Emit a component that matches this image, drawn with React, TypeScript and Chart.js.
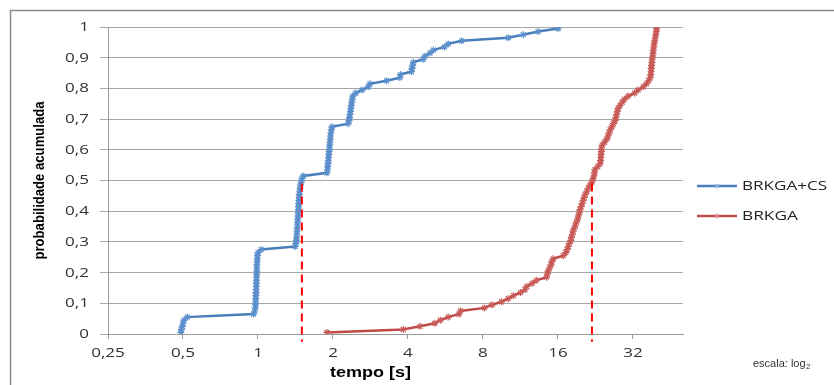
import React, { useEffect, useRef } from "react";
import { Chart, registerables } from "chart.js";

Chart.register(...registerables);

// cumulative probability levels shared by both series
const probLevels = [
  0.005, 0.015, 0.025, 0.035, 0.045, 0.055, 0.065, 0.075, 0.085, 0.095,
  0.105, 0.115, 0.125, 0.135, 0.145, 0.155, 0.165, 0.175, 0.185, 0.195,
  0.205, 0.215, 0.225, 0.235, 0.245, 0.255, 0.265, 0.275, 0.285, 0.295,
  0.305, 0.315, 0.325, 0.335, 0.345, 0.355, 0.365, 0.375, 0.385, 0.395,
  0.405, 0.415, 0.425, 0.435, 0.445, 0.455, 0.465, 0.475, 0.485, 0.495,
  0.505, 0.515, 0.525, 0.535, 0.545, 0.555, 0.565, 0.575, 0.585, 0.595,
  0.605, 0.615, 0.625, 0.635, 0.645, 0.655, 0.665, 0.675, 0.685, 0.695,
  0.705, 0.715, 0.725, 0.735, 0.745, 0.755, 0.765, 0.775, 0.785, 0.795,
  0.805, 0.815, 0.825, 0.835, 0.845, 0.855, 0.865, 0.875, 0.885, 0.895,
  0.905, 0.915, 0.925, 0.935, 0.945, 0.955, 0.965, 0.975, 0.985, 0.995,
];

// BRKGA+CS run times [s]
const brkgaCsTimes = [
  0.49, 0.493, 0.497, 0.5, 0.505, 0.52, 0.96, 0.97, 0.975, 0.977,
  0.978, 0.98, 0.98, 0.982, 0.983, 0.984, 0.985, 0.986, 0.987, 0.988,
  0.989, 0.99, 0.99, 0.992, 0.993, 0.995, 1.0, 1.03, 1.41, 1.42,
  1.425, 1.43, 1.432, 1.435, 1.437, 1.44, 1.442, 1.445, 1.447, 1.45,
  1.452, 1.455, 1.457, 1.46, 1.462, 1.465, 1.47, 1.475, 1.48, 1.49,
  1.5, 1.52, 1.89, 1.9, 1.905, 1.91, 1.915, 1.92, 1.925, 1.93,
  1.935, 1.94, 1.945, 1.95, 1.955, 1.96, 1.97, 1.98, 2.3, 2.32,
  2.33, 2.34, 2.35, 2.36, 2.37, 2.38, 2.39, 2.4, 2.47, 2.62,
  2.77, 2.81, 3.28, 3.71, 3.73, 4.13, 4.15, 4.18, 4.2, 4.6,
  4.68, 4.9, 5.06, 5.6, 5.8, 6.57, 10.1, 11.6, 13.3, 16.0,
];

// BRKGA run times [s]
const brkgaTimes = [
  1.89, 3.83, 4.47, 5.13, 5.4, 5.8, 6.4, 6.5, 8.1, 8.7,
  9.5, 10.1, 10.6, 11.3, 11.8, 12.0, 12.6, 13.1, 14.4, 14.5,
  14.6, 14.8, 15.0, 15.1, 15.3, 16.8, 17.2, 17.4, 17.6, 17.8,
  18.0, 18.1, 18.3, 18.4, 18.6, 18.8, 19.0, 19.2, 19.3, 19.5,
  19.6, 19.8, 20.0, 20.2, 20.4, 20.6, 20.9, 21.2, 21.5, 21.9,
  22.1, 22.3, 22.4, 22.5, 23.1, 23.6, 23.7, 23.8, 23.8, 23.9,
  23.9, 24.1, 24.6, 25.1, 25.4, 25.7, 25.9, 26.3, 26.7, 27.1,
  27.3, 27.5, 27.7, 27.9, 28.4, 29.0, 29.6, 30.6, 32.5, 33.6,
  35.2, 36.2, 37.0, 37.5, 37.7, 37.8, 37.9, 38.0, 38.1, 38.2,
  38.4, 38.5, 38.6, 38.8, 38.9, 39.1, 39.3, 39.5, 39.7, 39.8,
];

const seriesNames = ["BRKGA+CS", "BRKGA"];
const seriesColors = ["#4A7EBB", "#BE4B48"];

// dashed reference lines (median times)
const refTimes = [1.5, 21.9];
const refProbTop = 0.49;
const refProbBottom = -0.025;

const xTickValues = [0.25, 0.5, 1, 2, 4, 8, 16, 32];
const xTickLabels = ["0,25", "0,5", "1", "2", "4", "8", "16", "32"];
const xMin = 0.25;
const xMax = 50.8;
const yTickValues = [0, 0.1, 0.2, 0.3, 0.4, 0.5, 0.6, 0.7, 0.8, 0.9, 1];
const yTickLabels = ["0", "0,1", "0,2", "0,3", "0,4", "0,5", "0,6", "0,7", "0,8", "0,9", "1"];

const xTitle = "tempo [s]";
const yTitle = "probabilidade acumulada";
const noteText = "escala: log";
const noteSub = "2";

const TICK_FONT = "12px 'Open Sans'";
const TICK_STRETCH = 1.42;
const TEXT_STRETCH = 1.3;

function drawStretched(
  ctx: CanvasRenderingContext2D,
  text: string,
  width: number,
  font: string,
  align: CanvasTextAlign,
  color: string
) {
  ctx.font = font;
  const w = ctx.measureText(text).width;
  ctx.scale(width / w, 1);
  ctx.textAlign = align;
  ctx.textBaseline = "middle";
  ctx.fillStyle = color;
  ctx.fillText(text, 0, 0);
}

function drawScaled(
  ctx: CanvasRenderingContext2D,
  text: string,
  x: number,
  y: number,
  sx: number,
  font: string,
  align: CanvasTextAlign,
  color: string
) {
  ctx.save();
  ctx.translate(x, y);
  ctx.scale(sx, 1);
  ctx.font = font;
  ctx.textAlign = align;
  ctx.textBaseline = "middle";
  ctx.fillStyle = color;
  ctx.fillText(text, 0, 0);
  ctx.restore();
}

function drawStar(ctx: CanvasRenderingContext2D, x: number, y: number, r: number) {
  const d = r * 0.7071;
  ctx.beginPath();
  ctx.moveTo(x - r, y);
  ctx.lineTo(x + r, y);
  ctx.moveTo(x, y - r);
  ctx.lineTo(x, y + r);
  ctx.moveTo(x - d, y - d);
  ctx.lineTo(x + d, y + d);
  ctx.moveTo(x - d, y + d);
  ctx.lineTo(x + d, y - d);
  ctx.stroke();
}

const decorPlugin = {
  id: "decor",
  beforeDraw(chart: any) {
    const ctx: CanvasRenderingContext2D = chart.ctx;
    ctx.save();
    ctx.fillStyle = "#ffffff";
    ctx.fillRect(0, 0, chart.width, chart.height);
    ctx.strokeStyle = "#8c8c8c";
    ctx.lineWidth = 1.5;
    ctx.beginPath();
    ctx.moveTo(10.5, chart.height);
    ctx.lineTo(10.5, 10.5);
    ctx.lineTo(chart.width, 10.5);
    ctx.stroke();
    ctx.restore();
  },
  afterDraw(chart: any) {
    const ctx: CanvasRenderingContext2D = chart.ctx;
    const a = chart.chartArea;
    const xs = chart.scales.x;
    const ys = chart.scales.y;

    // tick labels
    yTickValues.forEach((v, i) => {
      drawScaled(ctx, yTickLabels[i], a.left - 19, ys.getPixelForValue(v) + 0.5, TICK_STRETCH, TICK_FONT, "right", "#333");
    });
    xTickValues.forEach((v, i) => {
      drawScaled(ctx, xTickLabels[i], xs.getPixelForValue(v), a.bottom + 19.5, TICK_STRETCH, TICK_FONT, "center", "#333");
    });

    // y title
    ctx.save();
    ctx.translate(a.left - 68, (a.top + a.bottom) / 2);
    ctx.rotate(-Math.PI / 2);
    drawStretched(ctx, yTitle, 158, "bold 14px 'Liberation Sans'", "center", "#000");
    ctx.restore();

    // x title
    ctx.save();
    ctx.translate(a.left + 262.5, a.bottom + 39);
    drawStretched(ctx, xTitle, 81, "bold 14px 'Liberation Sans'", "center", "#000");
    ctx.restore();

    // legend
    const lx = a.right + 14;
    const rows = [a.top + 159, a.top + 189];
    const widths = [85, 56];
    for (let i = 0; i < 2; i++) {
      const y = rows[i];
      ctx.save();
      ctx.strokeStyle = seriesColors[i];
      ctx.lineWidth = 2.5;
      ctx.beginPath();
      ctx.moveTo(lx, y);
      ctx.lineTo(lx + 40, y);
      ctx.stroke();
      ctx.lineWidth = 1;
      ctx.strokeStyle = i === 0 ? "#8FB3DE" : "#D98E8C";
      drawStar(ctx, lx + 20, y, 2.5);
      ctx.restore();
      ctx.save();
      ctx.translate(lx + 45, y);
      drawStretched(ctx, seriesNames[i], widths[i], "13px 'Open Sans'", "left", "#222");
      ctx.restore();
    }

    // scale note
    ctx.save();
    ctx.font = "11px 'Liberation Sans'";
    ctx.fillStyle = "#333";
    ctx.textBaseline = "middle";
    ctx.textAlign = "left";
    const nx = a.right + 70;
    const ny = a.bottom + 30;
    ctx.fillText(noteText, nx, ny);
    const w = ctx.measureText(noteText).width;
    ctx.font = "8px 'Liberation Sans'";
    ctx.fillText(noteSub, nx + w + 0.5, ny + 3);
    ctx.restore();
  },
};

export default function App() {
  const ref = useRef<HTMLCanvasElement | null>(null);

  useEffect(() => {
    if (!ref.current) return;
    const mk = (times: number[]) => times.map((t, i) => ({ x: t, y: probLevels[i] }));
    const chart = new Chart(ref.current, {
      type: "line",
      data: {
        datasets: [
          ...refTimes.map((t) => ({
            label: "ref",
            data: [
              { x: t, y: refProbTop },
              { x: t, y: refProbBottom },
            ],
            borderColor: "#FF0000",
            borderWidth: 2,
            borderDash: [8, 5],
            pointRadius: 0,
            clip: false as any,
            order: 0,
          })),
          {
            label: seriesNames[0],
            data: mk(brkgaCsTimes),
            borderColor: seriesColors[0],
            backgroundColor: seriesColors[0],
            borderWidth: 2.5,
            pointStyle: "star",
            pointRadius: 3.5,
            pointBorderWidth: 1.2,
            pointBorderColor: "#5B8FCC",
            order: 1,
          },
          {
            label: seriesNames[1],
            data: mk(brkgaTimes),
            borderColor: seriesColors[1],
            backgroundColor: seriesColors[1],
            borderWidth: 2.5,
            pointStyle: "star",
            pointRadius: 3.5,
            pointBorderWidth: 1.2,
            pointBorderColor: "#C85A57",
            order: 2,
          },
        ] as any,
      },
      options: {
        animation: false,
        responsive: false,
        devicePixelRatio: 1,
        layout: { padding: { left: 0, right: 151, top: 27, bottom: 0 } },
        plugins: { legend: { display: false }, tooltip: { enabled: false } },
        scales: {
          x: {
            type: "logarithmic",
            min: xMin,
            max: xMax,
            afterBuildTicks: (s: any) => {
              s.ticks = xTickValues.map((v) => ({ value: v }));
            },
            afterFit: (s: any) => {
              s.height = 51;
            },
            ticks: {
              display: false,
              callback: (_v: any, i: number) => xTickLabels[i],
              autoSkip: false,
              maxRotation: 0,
            },
            grid: { drawOnChartArea: false, tickLength: 5, color: "#9a9a9a" },
            border: { color: "#9a9a9a" },
          },
          y: {
            type: "linear",
            min: 0,
            max: 1,
            afterBuildTicks: (s: any) => {
              s.ticks = yTickValues.map((v) => ({ value: v }));
            },
            afterFit: (s: any) => {
              s.width = 108;
            },
            ticks: {
              display: false,
              callback: (_v: any, i: number) => yTickLabels[i],
            },
            grid: { color: "#a6a6a6", tickLength: 8 },
            border: { color: "#9a9a9a" },
          },
        },
      } as any,
      plugins: [decorPlugin as any],
    });
    return () => chart.destroy();
  }, []);

  return (
    <canvas
      ref={ref}
      width={834}
      height={385}
      style={{ position: "absolute", left: 0, top: 0, width: 834, height: 385 }}
    />
  );
}
